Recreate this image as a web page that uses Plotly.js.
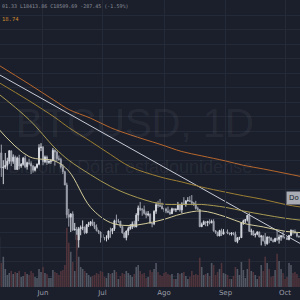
<!DOCTYPE html>
<html><head><meta charset="utf-8">
<script src="https://cdn.plot.ly/plotly-3.0.1.min.js"></script>
<style>html,body{margin:0;padding:0;background:#1b1f2b;}#c{width:300px;height:300px;}</style>
</head><body><div id="c"></div>
<script>
const dates = ["2022-05-10","2022-05-11","2022-05-12","2022-05-13","2022-05-14","2022-05-15","2022-05-16","2022-05-17","2022-05-18","2022-05-19","2022-05-20","2022-05-21","2022-05-22","2022-05-23","2022-05-24","2022-05-25","2022-05-26","2022-05-27","2022-05-28","2022-05-29","2022-05-30","2022-05-31",
"2022-06-01","2022-06-02","2022-06-03","2022-06-04","2022-06-05","2022-06-06","2022-06-07","2022-06-08","2022-06-09","2022-06-10","2022-06-11","2022-06-12","2022-06-13","2022-06-14","2022-06-15","2022-06-16","2022-06-17","2022-06-18","2022-06-19","2022-06-20","2022-06-21","2022-06-22","2022-06-23","2022-06-24","2022-06-25","2022-06-26","2022-06-27","2022-06-28","2022-06-29","2022-06-30",
"2022-07-01","2022-07-02","2022-07-03","2022-07-04","2022-07-05","2022-07-06","2022-07-07","2022-07-08","2022-07-09","2022-07-10","2022-07-11","2022-07-12","2022-07-13","2022-07-14","2022-07-15","2022-07-16","2022-07-17","2022-07-18","2022-07-19","2022-07-20","2022-07-21","2022-07-22","2022-07-23","2022-07-24","2022-07-25","2022-07-26","2022-07-27","2022-07-28","2022-07-29","2022-07-30","2022-07-31",
"2022-08-01","2022-08-02","2022-08-03","2022-08-04","2022-08-05","2022-08-06","2022-08-07","2022-08-08","2022-08-09","2022-08-10","2022-08-11","2022-08-12","2022-08-13","2022-08-14","2022-08-15","2022-08-16","2022-08-17","2022-08-18","2022-08-19","2022-08-20","2022-08-21","2022-08-22","2022-08-23","2022-08-24","2022-08-25","2022-08-26","2022-08-27","2022-08-28","2022-08-29","2022-08-30","2022-08-31",
"2022-09-01","2022-09-02","2022-09-03","2022-09-04","2022-09-05","2022-09-06","2022-09-07","2022-09-08","2022-09-09","2022-09-10","2022-09-11","2022-09-12","2022-09-13","2022-09-14","2022-09-15","2022-09-16","2022-09-17","2022-09-18","2022-09-19","2022-09-20","2022-09-21","2022-09-22","2022-09-23","2022-09-24","2022-09-25","2022-09-26","2022-09-27","2022-09-28","2022-09-29","2022-09-30",
"2022-10-01","2022-10-02","2022-10-03","2022-10-04","2022-10-05","2022-10-06","2022-10-07","2022-10-08"];

const open = [30100,31020,28940,29050,29290,29870,31300,29850,30420,28720,30300,29200,29430,30280,29100,29650,29540,29200,28620,29020,29450,31730,
31800,29800,30450,29700,29860,29910,31370,31130,30210,30110,29080,28420,26580,22480,22140,22580,20400,20470,19010,20550,20710,20730,19980,21090,21230,21500,21030,20730,20280,20100,
19780,19300,19250,19300,20230,20200,20550,21640,21600,21600,20850,19970,19330,20230,20590,20830,21200,20790,22430,23400,23220,23160,22680,22450,22580,21310,21250,22950,23850,23770,23650,
23300,23270,22980,22820,22620,23310,23170,23180,23810,23150,23950,23930,24400,24440,24300,24100,23850,23340,23210,20830,21140,21520,21400,21530,21370,21570,20260,20040,19550,20290,19800,
20050,20130,19950,19830,19990,19790,18790,19290,19320,21360,21650,21830,22400,20180,20230,19700,19800,20110,19420,19540,18880,18480,19400,19290,18920,18800,19220,19080,19410,19590,
19420,19310,19060,19620,20340,20160,19950,19530];
const high = [32650,32150,30000,31000,30350,31400,31300,30800,30650,30500,30750,29600,30450,30650,29800,30200,29850,29350,29200,29550,32200,32350,
31950,30650,30650,29950,30150,31700,31500,31300,30650,30350,29450,28550,26900,23300,22700,22950,21350,20800,20800,21000,21700,20870,21200,21500,21600,21850,21500,21150,20400,20150,
20850,19400,19650,20300,20700,20650,21800,22500,21900,21600,20850,20050,20300,20850,21200,21550,21650,22700,23750,24250,23400,23750,22950,23000,22650,21350,23100,24200,24400,24650,24150,
23450,23450,23600,23200,23450,23350,23400,24250,23900,24200,24900,24450,24900,25050,25200,24250,24400,23600,23250,21400,21700,21550,21650,21850,21800,21850,20350,20150,20400,20550,20500,
20200,20450,20000,20000,20050,20150,19400,19450,21450,21800,21850,22450,22750,20550,20350,19900,20200,20150,19700,19650,19950,19500,19500,19300,19150,19300,20350,19750,19650,20150,
19450,19400,19700,20450,20350,20450,20050,19600];
const low = [29700,27700,26700,28800,28700,29500,29200,29500,28700,28700,28750,28950,29250,28900,28700,29300,28100,28300,28450,28850,29300,31250,
29300,29600,29350,29500,29500,29900,29250,29900,29950,28850,28100,26600,22000,20850,20100,20250,20300,17600,17950,19650,20350,19800,19900,20800,20900,20950,20500,20200,19850,18650,
19000,18950,18800,19050,19300,19800,20250,21200,21350,20650,19900,19250,18950,19650,20400,20500,20750,20780,21600,23000,22350,22500,22000,22250,21300,20750,21050,22600,23450,23550,23250,
22850,22700,22700,22450,22600,22950,22850,23150,22900,22700,23900,23600,24300,24250,23800,23700,23200,23150,20800,20800,21100,20900,20900,21150,21300,20150,19850,19600,19550,19550,19800,
19650,19800,19650,19600,19650,18700,18550,19000,19300,21100,21350,21550,20150,19650,19550,19350,19650,19350,18250,18800,18150,18350,18550,18850,18650,18700,18850,18500,18900,19200,
19150,19000,18950,19500,19750,19900,19350,19350];
const close = [31020,28940,29050,29290,29870,31300,29850,30420,28720,30300,29200,29430,30280,29100,29650,29540,29200,28620,29020,29450,31730,31800,
29800,30450,29700,29860,29910,31370,31130,30210,30110,29080,28420,26580,22480,22140,22580,20400,20470,19010,20550,20710,20730,19980,21090,21230,21500,21030,20730,20280,20100,19780,
19300,19250,19300,20230,20200,20550,21640,21600,21600,20850,19970,19330,20230,20590,20830,21200,20790,22430,23400,23220,23160,22680,22450,22580,21310,21250,22950,23850,23770,23650,23300,
23270,22980,22820,22620,23310,23170,23180,23810,23150,23950,23930,24400,24440,24300,24100,23850,23340,23210,20830,21140,21520,21400,21530,21370,21570,20260,20040,19550,20290,19800,20050,
20130,19950,19830,19990,19790,18790,19290,19320,21360,21650,21830,22400,20180,20230,19700,19800,20110,19420,19540,18880,18480,19400,19290,18920,18800,19220,19080,19410,19590,19420,
19310,19060,19620,20340,20160,19950,19530,19420];
const volume = [50,24,30,18,12,14,16,13,15,14,16,10,11,15,13,12,16,14,10,9,18,15,
20,14,13,9,9,17,15,14,12,16,17,22,59,44,35,25,16,52,30,20,18,16,14,12,10,11,12,14,13,16,
15,10,9,14,13,14,17,15,8,11,14,13,16,14,12,10,13,20,22,16,13,14,9,10,17,15,18,24,15,12,11,
14,15,13,12,13,8,8,14,13,14,15,11,8,10,16,12,13,12,29,20,12,13,14,11,24,22,12,15,18,24,14,
13,12,8,8,11,20,18,12,25,17,9,18,28,16,15,12,8,11,22,16,30,24,18,10,11,17,33,26,18,14,
8,10,24,22,14,15,13,9];

const monthTicks = ["2022-06-01","2022-07-01","2022-08-01","2022-09-01","2022-10-01"];
const monthLabels = ["Jun","Jul","Ago","Sep","Oct"];

const maDates = ["2022-05-08","2022-05-25","2022-06-07","2022-06-14","2022-06-25","2022-07-05","2022-07-15","2022-07-30","2022-08-10","2022-08-20","2022-09-01","2022-09-10","2022-09-20","2022-10-01","2022-10-10"];
const ma200 = [43400,40500,38200,37000,35800,34500,33500,32200,31200,30600,29900,29300,28800,28200,27700];
const ma100 = [41000,38200,35900,34500,32600,30800,29100,27700,27000,26300,25600,25100,24600,23900,23500];
const ma50  = [39500,35600,31700,30000,28000,26400,25200,24000,23900,23900,23500,23000,22500,22000,21700];
const ma20  = [34800,30500,29900,28500,23500,21400,21000,21700,22600,23000,22200,21300,20800,20200,20000];
const trendDates = ["2022-05-08","2022-10-10"];
const trend = [42100,18300];

const volColors = close.map((c,i)=> c>=open[i] ? '#525764' : '#4f343c');

const lineStyle = (col)=>({color:col,width:1});
const traces = [
  {type:'bar',x:dates,y:volume,xaxis:'x',yaxis:'y2',marker:{color:volColors,line:{width:0}},hoverinfo:'skip'},
  {type:'scatter',mode:'lines',x:maDates,y:ma200,line:Object.assign(lineStyle('#b8672c'),{shape:'spline'})},
  {type:'scatter',mode:'lines',x:trendDates,y:trend,line:lineStyle('#c9ccd6')},
  {type:'scatter',mode:'lines',x:maDates,y:ma100,line:Object.assign(lineStyle('#9c7f33'),{shape:'spline'})},
  {type:'scatter',mode:'lines',x:maDates,y:ma50,line:Object.assign(lineStyle('#a89a52'),{shape:'spline'})},
  {type:'scatter',mode:'lines',x:maDates,y:ma20,line:Object.assign(lineStyle('#d3cc9a'),{shape:'spline'})},
  {type:'candlestick',x:dates,open:open,high:high,low:low,close:close,whiskerwidth:0,
   increasing:{line:{color:'#d6d9e0',width:1},fillcolor:'#d6d9e0'},
   decreasing:{line:{color:'#9ea2ad',width:1},fillcolor:'#9ea2ad'}}
];

const layout = {
  width:300,height:300,
  paper_bgcolor:'#1b1f2b',plot_bgcolor:'rgba(0,0,0,0)',
  margin:{l:0,r:0,t:0,b:13},
  showlegend:false,
  xaxis:{type:'date',range:['2022-05-10 08:00','2022-10-08 13:00'],rangeslider:{visible:false},
    tickvals:monthTicks,ticktext:monthLabels,showgrid:true,gridcolor:'#252a38',gridwidth:1,
    tickfont:{family:'DejaVu Sans',size:7,color:'#9a9da8'},ticks:'',zeroline:false,showline:false},
  yaxis:{domain:[0,1],range:[12514,52100],dtick:2000,tick0:0,showgrid:true,gridcolor:'#252a38',gridwidth:1,
    showticklabels:false,zeroline:false,showline:false},
  yaxis2:{domain:[0,0.35],range:[0,100],anchor:'x',showgrid:false,showticklabels:false,zeroline:false,showline:false},
  annotations:[
    {xref:'paper',yref:'paper',x:135/300,y:1-123/287,xanchor:'center',yanchor:'middle',showarrow:false,
     text:'BTCUSD, 1D',font:{family:'Liberation Sans',size:40,color:'rgba(200,205,220,0.08)'}},
    {xref:'paper',yref:'paper',x:130/300,y:1-167/287,xanchor:'center',yanchor:'middle',showarrow:false,
     text:'Bitcoin / Dólar estadounidense',font:{family:'Liberation Sans',size:18,color:'rgba(200,205,220,0.08)'}},
    {xref:'paper',yref:'paper',x:0,y:1-6/287,xanchor:'left',yanchor:'middle',showarrow:false,
     text:'01.33 L18413.86 C18509.69 -287.45 (-1.59%)',font:{family:'DejaVu Sans Mono',size:5,color:'#8a8e99'}},
    {xref:'paper',yref:'paper',x:0,y:1-19/287,xanchor:'left',yanchor:'middle',showarrow:false,
     text:'18.74',font:{family:'DejaVu Sans Mono',size:5.5,color:'#d0892c'}},
    {xref:'paper',yref:'paper',x:286/300,y:1-198/287,xanchor:'left',yanchor:'middle',showarrow:false,
     text:'Do',bgcolor:'#a9acb5',borderpad:2,font:{family:'DejaVu Sans',size:7,color:'#1b1f2b'}}
  ]
};
Plotly.newPlot('c',traces,layout,{staticPlot:true,displayModeBar:false});
</script></body></html>
